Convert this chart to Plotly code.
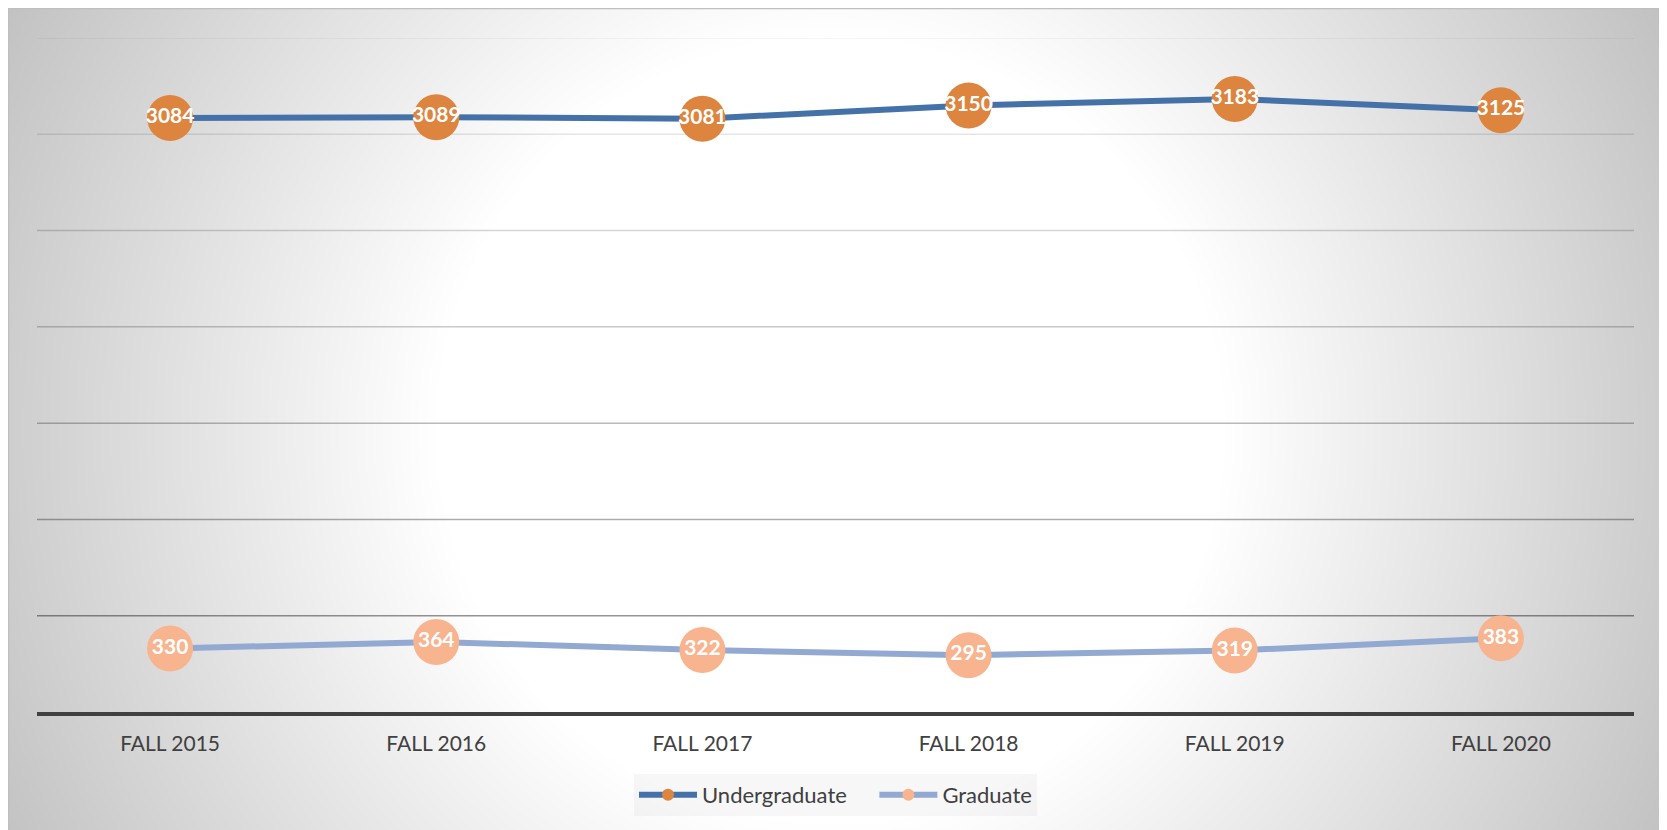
import base64
import struct
import zlib

import numpy as np
import plotly.graph_objects as go

# ---------------- data ----------------
categories = ["FALL 2015", "FALL 2016", "FALL 2017", "FALL 2018", "FALL 2019", "FALL 2020"]
undergraduate = [3084, 3089, 3081, 3150, 3183, 3125]
graduate = [330, 364, 322, 295, 319, 383]
grid_values = [500, 1000, 1500, 2000, 2500, 3000, 3500]
grid_alpha = [0.42, 0.33, 0.27, 0.21, 0.17, 0.10, 0.05]

# ---------------- geometry (pixels, page coordinates shifted by body margin) ----------------
O = 8  # browser body margin
W, H = 1667 - O, 830 - O
L, R, T, B = 37 - O, 1634 - O, 38 - O, 712 - O  # plot area in figure pixels
pw, ph = R - L, B - T


def px2x(px):
    return (px - L) / pw


def py2y(py):
    return (B - py) / ph


# ---------------- radial gradient background as PNG ----------------
fx0, fy0, fx1, fy1 = 0, 0, W, H
gw, gh = fx1 - fx0, fy1 - fy0
yy, xx = np.mgrid[0:gh, 0:gw]
cx, cy = 830 - O, 430 - O
d = np.sqrt((xx - cx) ** 2 + (yy - cy) ** 2)
val = 255 - 0.114 * np.clip(d - 395, 0, None)
img = np.clip(val, 0, 255).astype(np.uint8)


def make_png(a):
    h, w = a.shape
    raw = b"".join(b"\x00" + a[i].tobytes() for i in range(h))

    def chunk(tag, data):
        c = struct.pack(">I", len(data)) + tag + data
        return c + struct.pack(">I", zlib.crc32(tag + data) & 0xFFFFFFFF)

    ihdr = struct.pack(">IIBBBBB", w, h, 8, 0, 0, 0, 0)
    return (b"\x89PNG\r\n\x1a\n" + chunk(b"IHDR", ihdr)
            + chunk(b"IDAT", zlib.compress(raw, 9)) + chunk(b"IEND", b""))


png_uri = "data:image/png;base64," + base64.b64encode(make_png(img)).decode()

# ---------------- figure ----------------
FONT = "Lato"
UG_LINE, UG_MARK = "#4472A8", "#DD843F"
GR_LINE, GR_MARK = "#92A9D2", "#F7B48F"

fig = go.Figure()

legend_names = {"Undergraduate": "Undergraduate\u00a0\u00a0\u00a0\u00a0", "Graduate": "Graduate"}

for name, vals, lc, mc in [("Undergraduate", undergraduate, UG_LINE, UG_MARK),
                           ("Graduate", graduate, GR_LINE, GR_MARK)]:
    fig.add_trace(go.Scatter(
        x=categories, y=vals, mode="lines+markers+text",
        text=[str(v) for v in vals], textposition="middle center",
        textfont=dict(family=FONT, size=21, color="white", weight="bold"),
        line=dict(color=lc, width=6),
        marker=dict(color=mc, size=46, line=dict(width=0)),
        showlegend=False, name=name, hoverinfo="skip",
    ))
    # legend entry with small marker
    fig.add_trace(go.Scatter(
        x=[None], y=[None], mode="lines+markers", name=legend_names[name],
        line=dict(color=lc, width=6),
        marker=dict(color=mc, size=12, line=dict(width=0)),
        showlegend=True,
    ))

shapes = []
for gv, ga in zip(grid_values, grid_alpha):
    shapes.append(dict(type="line", xref="paper", yref="y", x0=0, x1=1, y0=gv, y1=gv,
                       line=dict(color=f"rgba(0,0,0,{ga})", width=1.5), layer="below"))
# outer chart frame
shapes.append(dict(type="rect", xref="paper", yref="paper",
                   x0=px2x(0.5), x1=px2x(1664 - O), y0=py2y(H + 5), y1=py2y(0.5),
                   line=dict(color="#BFBFBF", width=1.5), layer="below"))

fig.update_layout(
    width=W, height=H,
    margin=dict(l=L, r=W - R, t=T, b=H - B, pad=0),
    paper_bgcolor="white",
    plot_bgcolor="rgba(0,0,0,0)",
    font=dict(family=FONT, color="#404040"),
    images=[dict(source=png_uri, xref="paper", yref="paper",
                 x=px2x(fx0), y=py2y(fy0), sizex=gw / pw, sizey=gh / ph,
                 xanchor="left", yanchor="top", sizing="stretch", layer="below")],
    shapes=shapes,
    xaxis=dict(
        type="category", range=[-0.5, len(categories) - 0.5],
        showgrid=False, zeroline=False,
        showline=True, linecolor="#404040", linewidth=4,
        ticks="outside", ticklen=10, tickcolor="rgba(0,0,0,0)",
        tickfont=dict(family=FONT, size=21, color="#404040"),
    ),
    yaxis=dict(
        range=[0, 3500], showgrid=False, zeroline=False, showticklabels=False,
        showline=False, ticks="",
    ),
    legend=dict(
        orientation="h", x=0.5, xanchor="center", y=py2y(774 - O), yanchor="top",
        bgcolor="rgba(0,0,0,0.03)",
        font=dict(family=FONT, size=22, color="#404040"),
        itemwidth=58, tracegroupgap=0,
    ),
)

fig.write_html("out.html")
